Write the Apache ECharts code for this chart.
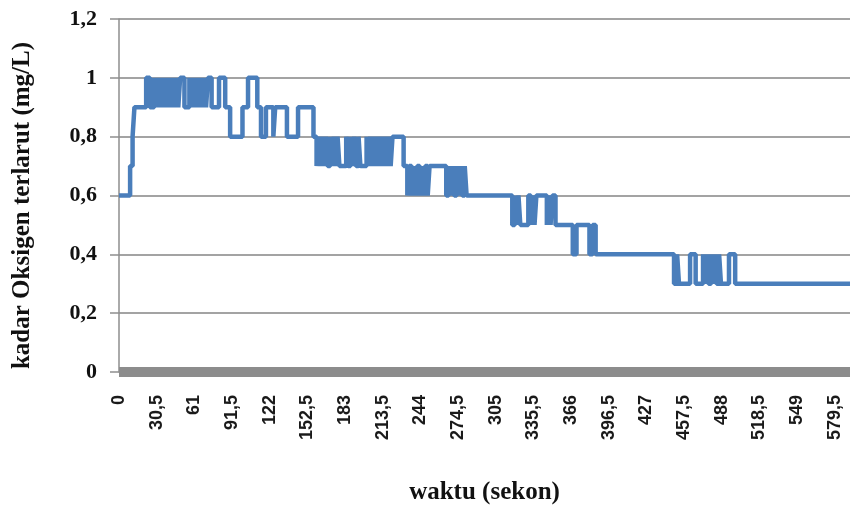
<!DOCTYPE html>
<html>
<head>
<meta charset="utf-8">
<title>Kadar Oksigen terlarut</title>
<script src="https://cdn.jsdelivr.net/npm/echarts@6/dist/echarts.min.js"></script>
<style>
  html, body { margin: 0; padding: 0; background: #fff; }
  #chart { width: 851px; height: 510px; }
</style>
</head>
<body>
<div id="chart"></div>
<script>
// [waktu (detik), kadar (mg/L)] - titik saat kadar berubah, ditahan sampai titik berikutnya
var naikAwal = [
  [0, 0.6], [9, 0.7], [11, 0.8], [12.5, 0.9], [22, 1.0], [25, 0.9], [28.5, 1.0], [30, 0.9],
  [31.5, 1.0], [33, 0.9], [34.5, 1.0], [36, 0.9], [37.5, 1.0], [39, 0.9], [40.5, 1.0],
  [42, 0.9], [43.5, 1.0], [45, 0.9], [46.5, 1.0], [48, 0.9], [49.5, 1.0], [53, 0.9],
  [57, 1.0], [58.5, 0.9], [60, 1.0], [61.5, 0.9], [63, 1.0], [64.5, 0.9], [66, 1.0],
  [67.5, 0.9], [69, 1.0], [70.5, 0.9], [72, 1.0], [75, 0.9], [81, 1.0], [86, 0.9]
];
var turun08 = [
  [90, 0.8], [100, 0.9], [104.5, 1.0], [112, 0.9], [115, 0.8], [119, 0.9], [125, 0.8],
  [126.5, 0.9], [136, 0.8], [145, 0.9], [157.5, 0.8], [160, 0.7], [161.5, 0.8], [163, 0.7],
  [164.5, 0.8], [166, 0.7], [167.5, 0.8], [169, 0.7], [171, 0.8], [172.5, 0.7], [174, 0.8],
  [175.5, 0.7], [177, 0.8], [178.5, 0.7], [184, 0.8], [185.5, 0.7], [187.5, 0.8], [189, 0.7],
  [190.5, 0.8], [192, 0.7], [194, 0.8], [195.5, 0.7], [200.5, 0.8], [202, 0.7], [203.5, 0.8],
  [205, 0.7], [206.5, 0.8], [208, 0.7], [209.5, 0.8], [211, 0.7], [212.5, 0.8], [214, 0.7],
  [215.5, 0.8], [217, 0.7], [218.5, 0.8], [220, 0.7], [221.5, 0.8], [230.5, 0.7]
];
var turun06 = [
  [233.5, 0.6], [235, 0.7], [237, 0.6], [238.5, 0.7], [240, 0.6], [241.5, 0.7], [243.5, 0.6],
  [245, 0.7], [246.5, 0.6], [248, 0.7], [250, 0.6], [251.5, 0.7], [265, 0.6], [267, 0.7],
  [268.5, 0.6], [270, 0.7], [271.5, 0.6], [273.5, 0.7], [275, 0.6], [276.5, 0.7], [278, 0.6],
  [280, 0.7], [281.5, 0.6], [318.5, 0.5], [320.5, 0.6], [322, 0.5], [323.5, 0.6], [325, 0.5],
  [331.5, 0.6], [333.5, 0.5], [335, 0.6], [336.5, 0.5], [338, 0.6], [346.5, 0.5], [348, 0.6],
  [349.5, 0.5], [351, 0.6], [353.5, 0.5]
];
var turun03 = [
  [367.5, 0.4], [370.5, 0.5], [381, 0.4], [383.5, 0.5], [386, 0.4], [449.5, 0.3], [452, 0.4],
  [453.5, 0.3], [462.5, 0.4], [467, 0.3], [473, 0.4], [474.5, 0.3], [476, 0.4], [477.5, 0.3],
  [479.5, 0.4], [481, 0.3], [482.5, 0.4], [484, 0.3], [486, 0.4], [487.5, 0.3], [494, 0.4],
  [499, 0.3], [592, 0.3]
];
var waktuMaks = 592;
var yTicks = [0, 0.2, 0.4, 0.6, 0.8, 1, 1.2];

function koma(v) { return String(v).replace('.', ','); }

var chart = echarts.init(document.getElementById('chart'), null, { renderer: 'canvas' });
chart.setOption({
  animation: false,
  backgroundColor: '#ffffff',
  grid: { left: 119, top: 19, right: 1, bottom: 136, containLabel: false },
  xAxis: {
    type: 'value',
    min: 0,
    max: waktuMaks,
    interval: 30.5,
    offset: 3,
    name: 'waktu (sekon)',
    nameLocation: 'middle',
    nameGap: 105,
    nameTextStyle: { fontFamily: 'Liberation Serif', fontWeight: 'bold', fontSize: 25, color: '#111' },
    axisLine: { show: true, lineStyle: { color: '#8c8c8c', width: 10, cap: 'butt' } },
    axisTick: { show: false },
    splitLine: { show: false },
    axisLabel: {
      rotate: 90,
      margin: 20,
      showMaxLabel: false,
      fontFamily: 'Liberation Sans',
      fontWeight: 'bold',
      fontSize: 18,
      color: '#1a1a1a',
      formatter: function (v) { return koma(v); }
    }
  },
  yAxis: {
    type: 'value',
    min: yTicks[0],
    max: yTicks[yTicks.length - 1],
    interval: 0.2,
    name: 'kadar Oksigen terlarut (mg/L)',
    nameLocation: 'middle',
    nameRotate: 90,
    nameGap: 84,
    nameTextStyle: {
      fontFamily: 'Liberation Serif', fontWeight: 'bold', fontSize: 25, color: '#111',
      padding: [0, 20, 0, 0]
    },
    axisLine: { show: true, lineStyle: { color: '#8e8e8e', width: 1.5 } },
    axisTick: { show: true, length: 9, lineStyle: { color: '#8e8e8e', width: 1.5 } },
    splitLine: { show: true, lineStyle: { color: '#a3a3a3', width: 2 } },
    axisLabel: {
      margin: 22,
      padding: [6, 0, 0, 0],
      fontFamily: 'Liberation Serif',
      fontWeight: 'bold',
      fontSize: 22,
      color: '#111',
      formatter: function (v) { return koma(v); }
    }
  },
  series: [{
    type: 'line',
    step: 'end',
    showSymbol: false,
    data: naikAwal.concat(turun08, turun06, turun03),
    lineStyle: { color: '#4a7ebb', width: 4.5 },
    itemStyle: { color: '#4a7ebb' }
  }]
});
</script>
</body>
</html>
